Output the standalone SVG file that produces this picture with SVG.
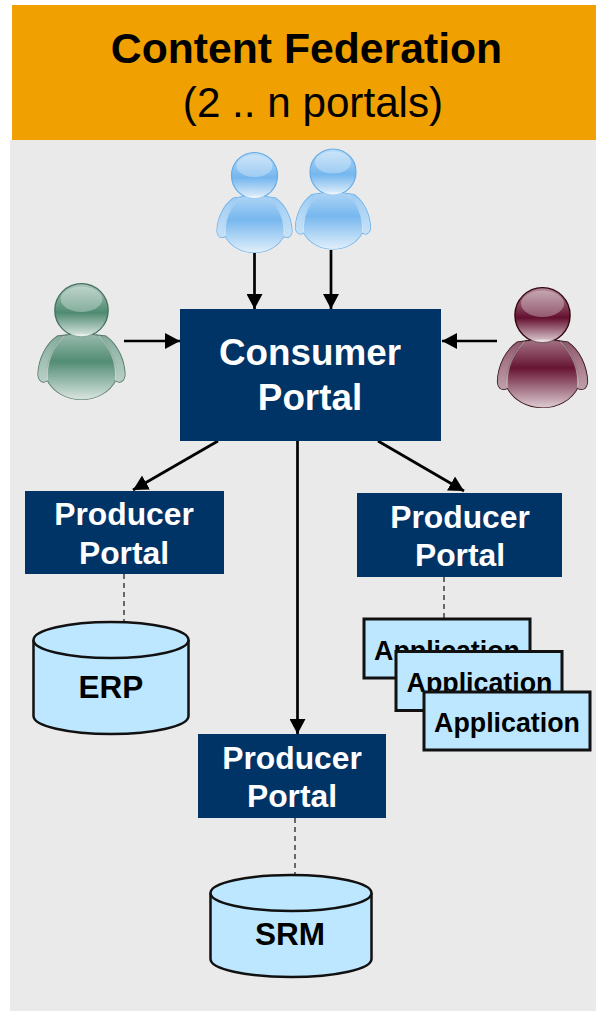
<svg xmlns="http://www.w3.org/2000/svg" width="596" height="1011" viewBox="0 0 596 1011">
<style>
text{font-family:"Liberation Sans",Arial,sans-serif;text-anchor:middle}
.b{font-weight:700}
.w{fill:#fff}
.k{fill:#000}
.navy{fill:#003366}
.lb{fill:#bde7ff;stroke:#111;stroke-width:3}
.cyl{fill:#bde7ff;stroke:#111;stroke-width:2.500}
.arrow{stroke:#000;stroke-width:2.700;fill:none;marker-end:url(#ah)}
.dash{stroke:#222;stroke-width:1.3;stroke-dasharray:5 4;fill:none}
.blue{--c:#74b6ee;--e:#63ace8}
.green{--c:#4f8a72;--e:#47705f}
.red{--c:#64102f;--e:#33060f}
</style>
<defs>
<marker id="ah" markerUnits="userSpaceOnUse" markerWidth="16" markerHeight="16" refX="15" refY="8" orient="auto"><path d="M0 0L15 8L0 16Z" fill="#000"/></marker>
<linearGradient id="gb" x1="0" y1="0" x2="0" y2="1"><stop offset="0" stop-color="#fff" stop-opacity=".42"/><stop offset=".42" stop-color="#fff" stop-opacity=".02"/><stop offset="1" stop-color="#fff" stop-opacity=".78"/></linearGradient>
<linearGradient id="gh" x1="0" y1="0" x2="0" y2="1"><stop offset="0" stop-color="#fff" stop-opacity=".5"/><stop offset=".55" stop-color="#fff" stop-opacity="0"/><stop offset="1" stop-color="#fff" stop-opacity=".8"/></linearGradient>
<linearGradient id="ga" x1="0" y1="0" x2="0" y2="1"><stop offset="0" stop-color="#fff" stop-opacity=".3"/><stop offset="1" stop-color="#fff" stop-opacity=".6"/></linearGradient>
<symbol id="person" viewBox="0 0 76 101" overflow="visible">
<g style="fill:var(--c);stroke:var(--e);stroke-width:1.2">
<path d="M17 46C7 53 1 66 .5 79C1 85 5 87 9 84C8 70 13 56 24 45Z"/>
<path d="M59 46C69 53 75 66 75.500 79C75 85 71 87 67 84C68 70 63 56 52 45Z"/>
<path d="M22 46C30 43 46 43 54 46C63 56 70 72 68 83C62 95 50 100.500 38 100.500C26 100.500 14 95 8 83C6 72 13 56 22 46Z"/>
<circle cx="38" cy="23.500" r="23"/>
</g>
<path d="M17 46C7 53 1 66 .5 79C1 85 5 87 9 84C8 70 13 56 24 45Z" fill="url(#ga)"/>
<path d="M59 46C69 53 75 66 75.500 79C75 85 71 87 67 84C68 70 63 56 52 45Z" fill="url(#ga)"/>
<path d="M22 46C30 43 46 43 54 46C63 56 70 72 68 83C62 95 50 100.500 38 100.500C26 100.500 14 95 8 83C6 72 13 56 22 46Z" fill="url(#gb)"/>
<circle cx="38" cy="23.500" r="22.500" fill="url(#gh)"/>
<ellipse cx="38" cy="14" rx="18" ry="11" fill="#fff" opacity=".3"/>
</symbol>
</defs>
<rect id="panel" x="10" y="140" width="586" height="871" fill="#eaeaea"/>
<g id="header">
<rect x="12" y="5" width="584" height="135" fill="#f0a000"/>
<text x="306.500" y="63" font-size="42.700" class="b k">Content Federation</text>
<text x="313" y="117" font-size="42.200" class="k">(2 .. n portals)</text>
</g>
<g id="user-blue-1"><use href="#person" class="blue" x="216.500" y="152" width="76" height="101"/></g>
<g id="user-blue-2"><use href="#person" class="blue" x="295" y="148.500" width="76" height="101"/></g>
<g id="user-green"><use href="#person" class="green" x="36" y="283" width="91" height="117" preserveAspectRatio="none"/></g>
<g id="user-red"><use href="#person" class="red" x="496" y="287" width="93" height="121" preserveAspectRatio="none"/></g>
<g id="connectors">
<path class="arrow" d="M254.500 253V309"/>
<path class="arrow" d="M331 250V309"/>
<path class="arrow" d="M124 341H180"/>
<path class="arrow" d="M497 341H442"/>
<path class="arrow" d="M218 441L133 490"/>
<path class="arrow" d="M297.500 441V734"/>
<path class="arrow" d="M378 441L464 491"/>
<path class="dash" d="M124 574V622"/>
<path class="dash" d="M444 577V619"/>
<path class="dash" d="M295 818V875"/>
</g>
<g id="consumer-portal">
<rect class="navy" x="180" y="309" width="261" height="132"/>
<text x="310" y="365" font-size="36.800" class="b w">Consumer</text>
<text x="310" y="410" font-size="36.800" class="b w">Portal</text>
</g>
<g id="producer-portal-erp">
<rect class="navy" x="25" y="491" width="199" height="83"/>
<text x="124" y="525" font-size="31.800" class="b w">Producer</text>
<text x="124" y="564" font-size="31.800" class="b w">Portal</text>
</g>
<g id="producer-portal-apps">
<rect class="navy" x="357" y="493" width="205" height="84"/>
<text x="460" y="528" font-size="31.800" class="b w">Producer</text>
<text x="460" y="566" font-size="31.800" class="b w">Portal</text>
</g>
<g id="producer-portal-srm">
<rect class="navy" x="198" y="734" width="188" height="84"/>
<text x="292" y="769" font-size="31.800" class="b w">Producer</text>
<text x="292" y="807" font-size="31.800" class="b w">Portal</text>
</g>
<g id="erp">
<path class="cyl" d="M33.500 640V716C33.500 726 68 734 111 734C154 734 188.500 726 188.500 716V640"/>
<ellipse class="cyl" cx="111" cy="640" rx="77.500" ry="18"/>
<text x="111" y="698" font-size="31.500" class="b k">ERP</text>
</g>
<g id="srm">
<path class="cyl" d="M210.500 893V959C210.500 969 246 977 291 977C336 977 371.500 969 371.500 959V893"/>
<ellipse class="cyl" cx="291" cy="893" rx="80.500" ry="18"/>
<text x="290" y="945" font-size="31.500" class="b k">SRM</text>
</g>
<g id="application-1">
<rect class="lb" x="364" y="619" width="166" height="59"/>
<text x="447" y="660" font-size="26.800" class="b k">Application</text>
</g>
<g id="application-2">
<rect class="lb" x="396" y="651.500" width="166" height="59"/>
<text x="479.500" y="692" font-size="26.800" class="b k">Application</text>
</g>
<g id="application-3">
<rect class="lb" x="424" y="692" width="166" height="58"/>
<text x="507" y="732" font-size="26.800" class="b k">Application</text>
</g>
</svg>
